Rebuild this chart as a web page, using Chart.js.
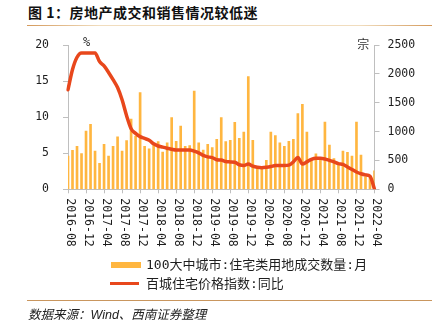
<!DOCTYPE html>
<html><head><meta charset="utf-8">
<script src="https://cdn.jsdelivr.net/npm/chart.js@4.4.1/dist/chart.umd.min.js"></script>
<style>
html,body{margin:0;padding:0;background:#fff;}
#wrap{position:relative;width:440px;height:333px;overflow:hidden;background:#fff;}
#c{position:absolute;left:0;top:0;}
.title{position:absolute;left:28px;top:5px;font:bold 14px/14px "Noto Sans CJK SC";letter-spacing:0.5px;color:#111;white-space:nowrap;}
.rule1{position:absolute;left:27px;top:24.5px;width:405px;height:1.5px;background:linear-gradient(to right,#D49A5C,#F1DDBE 18%,#F1DDBE 82%,#D49A5C);}
.rule2{position:absolute;left:27px;top:300px;width:405px;height:1px;background:#C9965E;}
.src{position:absolute;left:28px;top:309px;font:italic 12.5px/13px "Liberation Sans","Noto Sans CJK SC";color:#222;white-space:nowrap;}
</style></head>
<body><div id="wrap">
<div class="title">图 1：房地产成交和销售情况较低迷</div>
<div class="rule1"></div>
<canvas id="c" width="440" height="333"></canvas>
<div class="rule2"></div>
<div class="src">数据来源：Wind、西南证券整理</div>
</div>
<script>
const months = [
  '2016-08','2016-09','2016-10','2016-11','2016-12',
  '2017-01','2017-02','2017-03','2017-04','2017-05','2017-06','2017-07','2017-08','2017-09','2017-10','2017-11','2017-12',
  '2018-01','2018-02','2018-03','2018-04','2018-05','2018-06','2018-07','2018-08','2018-09','2018-10','2018-11','2018-12',
  '2019-01','2019-02','2019-03','2019-04','2019-05','2019-06','2019-07','2019-08','2019-09','2019-10','2019-11','2019-12',
  '2020-01','2020-02','2020-03','2020-04','2020-05','2020-06','2020-07','2020-08','2020-09','2020-10','2020-11','2020-12',
  '2021-01','2021-02','2021-03','2021-04','2021-05','2021-06','2021-07','2021-08','2021-09','2021-10','2021-11','2021-12',
  '2022-01','2022-02','2022-03','2022-04'
];
const tickLabels = ['2016-08','2016-12','2017-04','2017-08','2017-12','2018-04','2018-08','2018-12',
  '2019-04','2019-08','2019-12','2020-04','2020-08','2020-12','2021-04','2021-08','2021-12','2022-04'];
const landDeals = [574,676,746,620,1010,1126,660,448,781,574,
  746,907,660,845,1217,924,1677,746,700,770,
  828,643,804,1241,833,1095,746,759,1700,804,
  678,781,724,867,1241,828,848,1160,884,990,
  1953,850,380,370,500,990,931,804,746,830,
  867,1310,1471,993,500,615,520,1166,764,534,
  440,663,640,574,1166,594,220,200,320];
const priceYoY = [13.8,16.6,18.3,18.9,18.9,18.9,18.9,17.7,17.1,16.2,
  15.2,14.1,12.4,10.2,8.4,7.75,7.3,7.05,6.8,6.3,
  6.0,5.85,5.7,5.55,5.45,5.45,5.45,5.45,5.3,5.05,
  4.7,4.5,4.4,4.1,4.05,3.85,3.8,3.75,3.4,3.3,
  3.5,3.2,3.05,3.0,3.05,3.15,3.3,3.3,3.3,3.35,
  3.8,4.4,3.5,3.8,4.15,4.3,4.3,4.2,4.0,3.8,
  3.55,3.45,3.1,2.75,2.4,2.15,2.0,1.8,0.0];
const seriesNames = ['100大中城市:住宅类用地成交数量:月','百城住宅价格指数:同比'];
const unitLeft = '%';
const unitRight = '宗';

const AXIS = '#BFBFBF';
const TXT = '#1e1e1e';
const MONO = '"DejaVu Sans Mono", "Noto Sans CJK SC", monospace';
const BAR = '#FFB640';
const LINE = '#E8471C';

const overlay = {
  id: 'overlay',
  afterDraw(chart) {
    const {ctx, scales} = chart;
    const x = scales.x;
    ctx.save();
    ctx.fillStyle = TXT;
    ctx.font = '11.5px ' + MONO;
    ctx.textAlign = 'left';
    ctx.textBaseline = 'middle';
    months.forEach((m, i) => {
      if (!tickLabels.includes(m)) return;
      const px = x.getPixelForValue(i);
      ctx.save();
      ctx.translate(px + 1.5, x.top + 9);
      ctx.rotate(Math.PI / 2);
      ctx.fillText(m, 0, 0);
      ctx.restore();
    });
    ctx.fillStyle = '#333';
    ctx.textAlign = 'center';
    ctx.font = '12px ' + MONO;
    ctx.fillText(unitLeft, 86.7, 42.5);
    ctx.font = '12px "Noto Sans CJK SC"';
    ctx.fillText(unitRight, 363.3, 44);
    // legend
    const ds = chart.data.datasets;
    ctx.fillStyle = ds[0].backgroundColor;
    ctx.fillRect(111, 262, 30, 6);
    ctx.strokeStyle = ds[1].borderColor;
    ctx.lineWidth = 3;
    ctx.beginPath();
    ctx.moveTo(110, 283.5);
    ctx.lineTo(139, 283.5);
    ctx.stroke();
    ctx.fillStyle = TXT;
    ctx.textAlign = 'left';
    ctx.font = '13px ' + MONO;
    ctx.fillText(ds[0].label, 146, 265.5);
    ctx.fillText(ds[1].label, 146, 284.5);
    ctx.restore();
  }
};

new Chart(document.getElementById('c'), {
  type: 'bar',
  data: {
    labels: months,
    datasets: [
      {type: 'bar', label: seriesNames[0], data: landDeals, yAxisID: 'y2',
       backgroundColor: BAR, barThickness: 2, order: 1},
      {type: 'line', label: seriesNames[1], data: priceYoY, yAxisID: 'y',
       borderColor: LINE, backgroundColor: LINE, borderWidth: 3.5, pointRadius: 0,
       cubicInterpolationMode: 'monotone', fill: false, order: 0,
       borderJoinStyle: 'round', borderCapStyle: 'round'}
    ]
  },
  options: {
    responsive: false,
    animation: false,
    devicePixelRatio: 1,
    layout: {padding: {top: 45, left: 0, right: 0, bottom: 0}},
    plugins: {legend: {display: false}, tooltip: {enabled: false}},
    scales: {
      x: {
        type: 'category', offset: false,
        grid: {display: true, offset: false, drawOnChartArea: false, drawTicks: true, tickLength: 4,
               color: 'rgba(0,0,0,0)',
               tickColor: c => tickLabels.includes(months[c.index]) ? AXIS : 'rgba(0,0,0,0)'},
        border: {display: true, color: AXIS, width: 1},
        ticks: {display: false, autoSkip: false},
        afterFit: s => { s.height = 333 - 189.3; }
      },
      y: {
        position: 'left', min: 0, max: 20,
        ticks: {stepSize: 5, padding: 14, color: TXT, font: {family: MONO, size: 11.5},
                callback: v => String(v)},
        grid: {drawOnChartArea: false, tickLength: 5, color: AXIS},
        border: {display: true, color: AXIS},
        afterFit: s => { s.width = 68; }
      },
      y2: {
        position: 'right', min: 0, max: 2500,
        ticks: {stepSize: 500, padding: 8, color: TXT, font: {family: MONO, size: 11.5},
                callback: v => String(v)},
        grid: {drawOnChartArea: false, tickLength: 5, color: AXIS},
        border: {display: true, color: AXIS},
        afterFit: s => { s.width = 440 - 374.5; }
      }
    }
  },
  plugins: [overlay]
});
</script>
</body></html>
